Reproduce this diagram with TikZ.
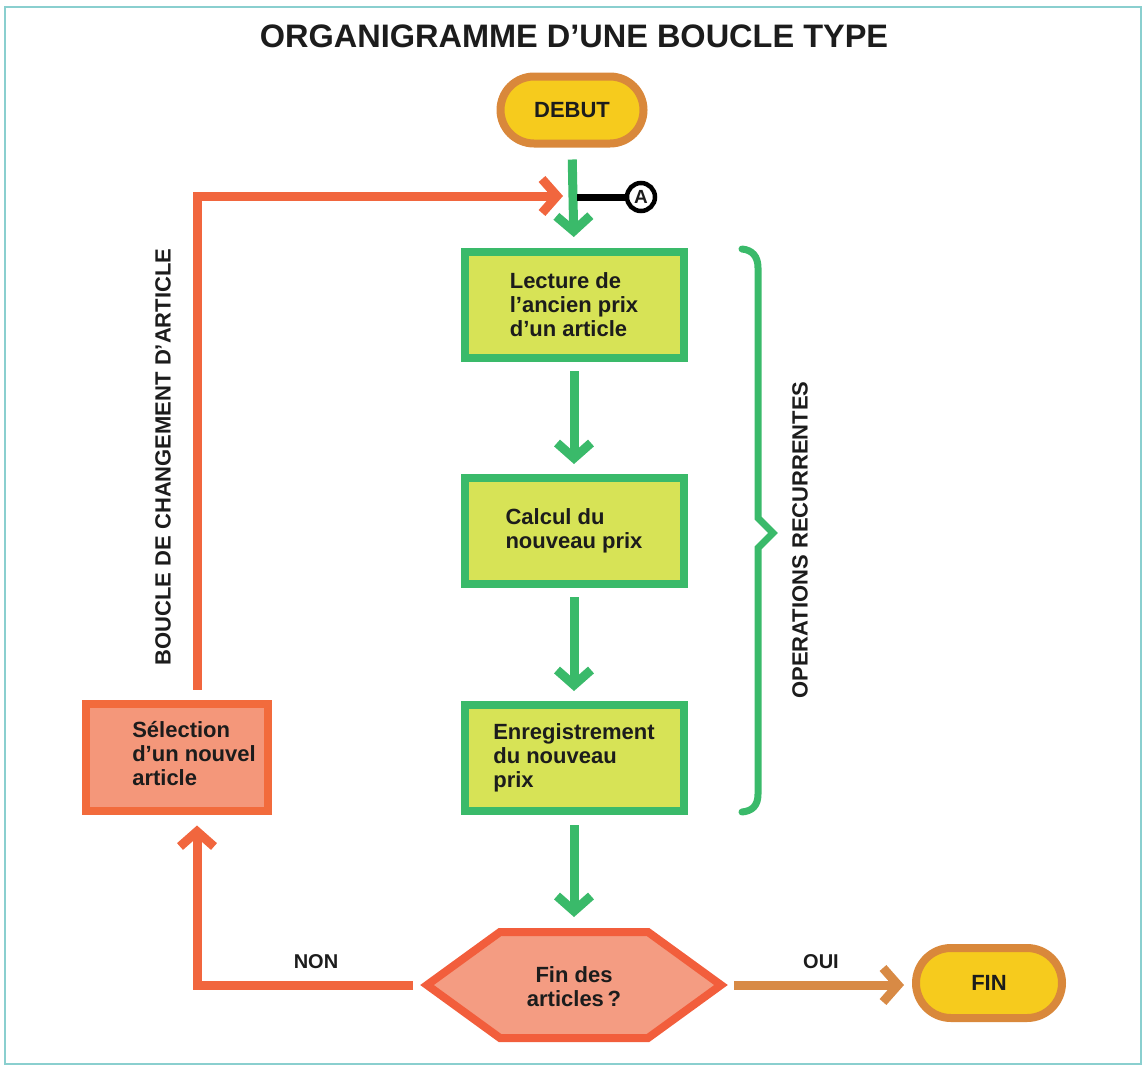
\documentclass[tikz,border=0pt]{standalone}
\usepackage{fontspec}
\setmainfont{Liberation Sans}
\usetikzlibrary{arrows.meta,shapes.misc}

\definecolor{ink}{HTML}{1C1C1C}
\definecolor{framecol}{HTML}{8ACFCF}
\definecolor{gborder}{HTML}{3ABA6A}
\definecolor{gfill}{HTML}{D7E356}
\definecolor{pillfill}{HTML}{F6CB1D}
\definecolor{pillborder}{HTML}{D9883B}
\definecolor{ofill}{HTML}{F4977A}
\definecolor{oborder}{HTML}{F26B3C}
\definecolor{hexfill}{HTML}{F49C82}
\definecolor{hexborder}{HTML}{F25E3C}
\definecolor{oline}{HTML}{F1663E}
\definecolor{bline}{HTML}{D88A45}

\begin{document}
\begin{tikzpicture}[x=1pt,y=-1pt,
  every node/.style={font=\bfseries\fontsize{22}{24}\selectfont, text=ink},
  pill/.style={rounded rectangle, draw=pillborder, fill=pillfill, line width=8pt,
    minimum width=143pt, minimum height=67pt, inner sep=0pt},
  gbox/.style={rectangle, draw=gborder, fill=gfill, line width=8pt,
    minimum width=219pt, minimum height=106pt, align=left, inner sep=0pt},
  obox/.style={rectangle, draw=oborder, fill=ofill, line width=8pt,
    minimum width=182pt, minimum height=107pt, inner sep=0pt},
  barb/.style={-{Straight Barb[length=15pt,width=34pt]}},
  garrow/.style={draw=gborder, line width=9pt, barb},
  oarrow/.style={draw=oline, line width=9pt, line join=miter, barb},
  brarrow/.style={draw=bline, line width=9pt, barb},
  sidelabel/.style={font=\bfseries\fontsize{22}{22}\selectfont, rotate=90},
  branchlabel/.style={font=\bfseries\fontsize{20}{20}\selectfont}
]
\useasboundingbox (0,0) rectangle (1148,1069);
\draw[framecol, line width=2pt] (5,7) rectangle (1141,1064);

% title
\node[font=\bfseries\fontsize{32.5}{32.5}\selectfont] (title) at (574,36)
  {ORGANIGRAMME D'UNE BOUCLE TYPE};

% terminals and process boxes
\node[pill] (debut) at (572,110) {DEBUT};
\node[gbox] (box1) at (574,305) {Lecture de\\l'ancien prix\\d'un article};
\node[gbox] (box2) at (574,531) {Calcul du\\nouveau prix};
\node[gbox] (box3) at (574,758) {Enregistrement\\du nouveau\\prix};
\node[obox] (sel) at (177,757)
  {\hspace*{34pt}\begin{tabular}{@{}l@{}}Sélection\\d'un nouvel\\article\end{tabular}};
\node[pill, minimum width=146pt, minimum height=70pt] (fin) at (989,983) {FIN};

% decision hexagon
\draw[draw=hexborder, fill=hexfill, line width=8pt, line join=miter]
  (427,985) -- (500,932) -- (648,932) -- (721,985) -- (648,1038) -- (500,1038) -- cycle;
\node[align=center] (hex) at (574,987) {Fin des\\articles\,?};
\coordinate (hexL) at (420,985);
\coordinate (hexR) at (728,985);

% main flow
\draw[garrow, shorten <=12pt, shorten >=11pt] (debut.south) -- (box1.north);
\draw[garrow, shorten <=9pt, shorten >=10pt] (box1.south) -- (box2.north);
\draw[garrow, shorten <=9pt, shorten >=10pt] (box2.south) -- (box3.north);
\draw[garrow, shorten <=10pt, shorten >=11pt] (box3.south) -- (574,928);

% article change loop
\coordinate (loopEnd) at (563,196);
\draw[oarrow] ([xshift=20pt,yshift=10pt]sel.north) |- (loopEnd);
\draw[oarrow, shorten <=7pt, shorten >=11pt] (hexL) -| ([xshift=20pt]sel.south);
\draw[brarrow, shorten <=6pt, shorten >=8pt] (hexR) -- (hexR -| fin.west);

% connector A
\coordinate (aJoin) at (577,197);
\node[circle, draw=black, line width=4.5pt, fill=white, minimum size=28pt, inner sep=0pt,
  font=\bfseries\fontsize{19}{19}\selectfont] (conA) at (641,197) {A};
\draw[line width=7pt] (aJoin) -- (conA.west);

% brace of recurring operations
\draw[gborder, line width=7pt, line cap=round, line join=miter]
  (742,249) .. controls (752,250) and (758,256) .. (758,268) -- (758,518)
  -- (773,533) -- (758,548) -- (758,794)
  .. controls (758,806) and (752,811) .. (742,812);

% labels
\node[sidelabel] (opLabel) at (800,540) {OPERATIONS RECURRENTES};
\node[sidelabel] (loopLabel) at (163,457) {BOUCLE DE CHANGEMENT D'ARTICLE};
\node[branchlabel] (non) at (316,962) {NON};
\node[branchlabel] (oui) at (821,962) {OUI};
\end{tikzpicture}
\end{document}
